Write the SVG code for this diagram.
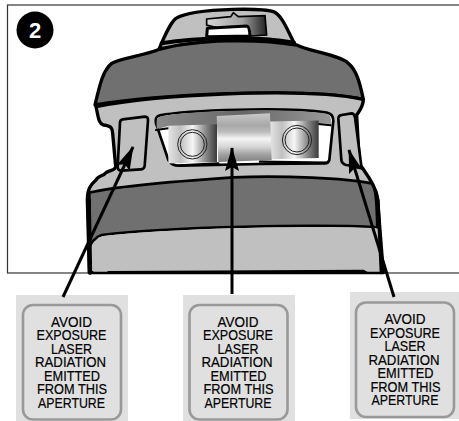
<svg xmlns="http://www.w3.org/2000/svg" width="459" height="421" viewBox="0 0 459 421">
<style>
.k{stroke:#000;stroke-linejoin:round;stroke-linecap:round;fill:none}
.lg{fill:#c0c0c0}.dg{fill:#707070}
.panel{fill:#e0e0e0}
.plate{fill:#e0e0e0;stroke:#999;stroke-width:2.6}
.t{font-family:"Liberation Sans",Arial,sans-serif;font-size:14px;fill:#000;stroke:#000;stroke-width:.2;text-anchor:middle}
.ar{stroke:#000;stroke-width:3;fill:none}
.ring{fill:none;stroke:#222;stroke-width:3}
</style>
<defs>
<linearGradient id="cyl" x1="0" y1="0" x2="1" y2="0">
<stop offset="0" stop-color="#e4e4e4"/><stop offset=".25" stop-color="#c0c0c0"/><stop offset=".5" stop-color="#f6f6f6"/><stop offset=".75" stop-color="#909090"/><stop offset="1" stop-color="#3a3a3a"/>
</linearGradient>
<linearGradient id="cen" x1="0" y1="0" x2="0" y2="1">
<stop offset="0" stop-color="#c8c8c8"/><stop offset=".25" stop-color="#a8a8a8"/><stop offset=".38" stop-color="#bcbcbc"/><stop offset=".52" stop-color="#f4f4f4"/><stop offset=".68" stop-color="#d8d8d8"/><stop offset=".85" stop-color="#a0a0a0"/><stop offset="1" stop-color="#808080"/>
</linearGradient>
<linearGradient id="top" x1="0" y1="0" x2="1" y2="0">
<stop offset="0" stop-color="#d8d8d8"/><stop offset=".6" stop-color="#a0a0a0"/><stop offset="1" stop-color="#202020"/>
</linearGradient>
<linearGradient id="strip" x1="0" y1="0" x2="1" y2="0">
<stop offset="0" stop-color="#8a8a8a"/><stop offset=".5" stop-color="#666"/><stop offset="1" stop-color="#9a9a9a"/>
</linearGradient>
<marker id="ah" viewBox="0 0 24 14" refX="23" refY="7" markerWidth="24" markerHeight="14" markerUnits="userSpaceOnUse" orient="auto">
<path d="M0 0L24 7L0 14L4 7Z" fill="#000"/>
</marker>
</defs>

<rect id="frame" x="7.500" y="5" width="470" height="268" fill="#fff" stroke="#333" stroke-width="1.2"/>

<g id="instrument" transform="translate(70 0) scale(.33333)">
<path id="cap" class="k lg" stroke-width="10" d="M268 145C285 105 300 70 318 55C345 38 420 30 490 28C540 27 590 28 610 35C635 45 650 85 672 128Z"/>
<path fill="url(#top)" stroke="#000" stroke-width="5" d="M410 57L482 50L490 38L505 50L585 47L590 105L540 108L410 75Z"/>
<path fill="#fff" stroke="#000" stroke-width="9" stroke-linejoin="round" d="M412 85L530 78Q538 78 540 108L410 110Z"/>
<path class="k" stroke-width="12" d="M275 130C380 112 560 108 672 128"/>

<path id="upper" class="k dg" stroke-width="10" d="M268 148C230 165 150 175 125 190C100 210 90 250 75 315C250 285 700 260 880 298C870 250 860 210 835 190C810 165 720 155 680 135C560 115 380 118 268 148Z"/>

<path id="waist" class="k lg" stroke-width="10" d="M78 320C85 350 85 370 100 375C125 378 127 385 128 400L137 500C135 512 120 510 108 518C100 530 85 525 78 540C60 555 52 570 52 600L58 818L940 818L922 590C915 550 880 510 868 490L860 345C870 330 880 320 880 298C700 260 250 285 78 320Z"/>

<path id="lower" class="dg" stroke="#000" stroke-width="8" stroke-linejoin="round" d="M58 578C130 560 300 545 490 532C650 526 820 535 905 550C920 570 920 620 922 682C750 672 300 680 95 705C75 712 60 730 58 745Z"/>
<path class="lg" d="M70 745Q75 712 100 708C300 685 750 675 920 685L932 815L70 815Z"/>
<path class="k" stroke-width="6" d="M115 816L880 812L890 818"/>
<path class="k" stroke-width="13" d="M56 600L60 818"/>
<path class="k" stroke-width="10" d="M924 600L934 818"/>

<path id="win-left" class="k lg" stroke-width="8" d="M158 358L225 350Q235 350 234 362L224 498Q222 508 212 508L155 512Q143 512 143 500L150 368Q150 360 158 358Z"/>
<path id="win-right" class="k lg" stroke-width="8" d="M815 345L845 340Q852 340 855 352L873 490Q875 502 865 500L828 495Q815 490 814 480L805 355Q805 347 815 345Z"/>

<g id="aperture">
<path fill="#fff" stroke="#000" stroke-width="8" stroke-linejoin="round" d="M270 346C350 330 650 320 770 338Q790 342 790 362L778 480Q775 490 765 490L570 492L330 497Q305 498 295 480L258 370Q253 350 270 346Z"/>
<path fill="url(#strip)" d="M260 360Q265 348 280 347C380 332 650 322 770 341Q785 345 784 372L745 370L295 385L295 378L260 388Z"/>
<path class="k" stroke-width="6" d="M258 390L295 385M745 372L782 376"/>
<rect x="295" y="376" width="146" height="113" fill="url(#cyl)" transform="skewY(-1.7) translate(0 10)"/>
<rect x="600" y="367" width="146" height="113" fill="url(#cyl)" transform="skewY(-1.2) translate(0 10)"/>
<path fill="url(#cen)" d="M440 348L600 340L605 480L445 486Z"/>
<circle class="ring" cx="367" cy="433" r="44"/>
<circle class="ring" cx="367" cy="433" r="36"/>
<circle class="ring" cx="681" cy="420" r="44"/>
<circle class="ring" cx="681" cy="420" r="36"/>
<path class="k" stroke-width="7" d="M330 496L445 490M570 485L770 488"/>
</g>
</g>

<g id="badge">
<circle cx="35" cy="30" r="18.500" fill="#000"/>
<text x="35" y="37.500" font-family="Liberation Sans,Arial,sans-serif" font-size="22" font-weight="700" fill="#fff" text-anchor="middle">2</text>
</g>

<g id="label-left">
<rect class="panel" x="16" y="295" width="112" height="126"/>
<rect class="plate" x="23" y="305" width="98" height="114.500" rx="10"/>
<g class="t">
<text x="71.500" y="326.700" textLength="41" lengthAdjust="spacingAndGlyphs">AVOID</text>
<text x="71.500" y="340.200" textLength="70" lengthAdjust="spacingAndGlyphs">EXPOSURE</text>
<text x="71.500" y="353.800" textLength="41" lengthAdjust="spacingAndGlyphs">LASER</text>
<text x="70.500" y="367.300" textLength="71" lengthAdjust="spacingAndGlyphs">RADIATION</text>
<text x="72" y="380.900" textLength="56" lengthAdjust="spacingAndGlyphs">EMITTED</text>
<text x="72" y="394.200" textLength="70" lengthAdjust="spacingAndGlyphs">FROM THIS</text>
<text x="71.500" y="407.700" textLength="67" lengthAdjust="spacingAndGlyphs">APERTURE</text>
</g>
</g>

<g id="label-center">
<rect class="panel" x="183" y="295" width="112" height="126"/>
<rect class="plate" x="189.500" y="305" width="98" height="114.500" rx="10"/>
<g class="t">
<text x="238" y="326.700" textLength="41" lengthAdjust="spacingAndGlyphs">AVOID</text>
<text x="238" y="340.200" textLength="70" lengthAdjust="spacingAndGlyphs">EXPOSURE</text>
<text x="238" y="353.800" textLength="41" lengthAdjust="spacingAndGlyphs">LASER</text>
<text x="237" y="367.300" textLength="71" lengthAdjust="spacingAndGlyphs">RADIATION</text>
<text x="238.500" y="380.900" textLength="56" lengthAdjust="spacingAndGlyphs">EMITTED</text>
<text x="238.500" y="394.200" textLength="70" lengthAdjust="spacingAndGlyphs">FROM THIS</text>
<text x="238" y="407.700" textLength="67" lengthAdjust="spacingAndGlyphs">APERTURE</text>
</g>
</g>

<g id="label-right">
<rect class="panel" x="350" y="292" width="109" height="127"/>
<rect class="plate" x="356" y="302.500" width="98" height="114.500" rx="10"/>
<g class="t">
<text x="405" y="324" textLength="41" lengthAdjust="spacingAndGlyphs">AVOID</text>
<text x="405" y="337.500" textLength="70" lengthAdjust="spacingAndGlyphs">EXPOSURE</text>
<text x="405" y="351.100" textLength="41" lengthAdjust="spacingAndGlyphs">LASER</text>
<text x="404" y="364.600" textLength="71" lengthAdjust="spacingAndGlyphs">RADIATION</text>
<text x="405.500" y="378.200" textLength="56" lengthAdjust="spacingAndGlyphs">EMITTED</text>
<text x="405.500" y="391.500" textLength="70" lengthAdjust="spacingAndGlyphs">FROM THIS</text>
<text x="405" y="405" textLength="67" lengthAdjust="spacingAndGlyphs">APERTURE</text>
</g>
</g>

<g id="connectors">
<path class="ar" marker-end="url(#ah)" d="M63 297L133 147"/>
<path class="ar" marker-end="url(#ah)" d="M232 294L232 148"/>
<path class="ar" marker-end="url(#ah)" d="M394 297L349 150"/>
</g>
</svg>
